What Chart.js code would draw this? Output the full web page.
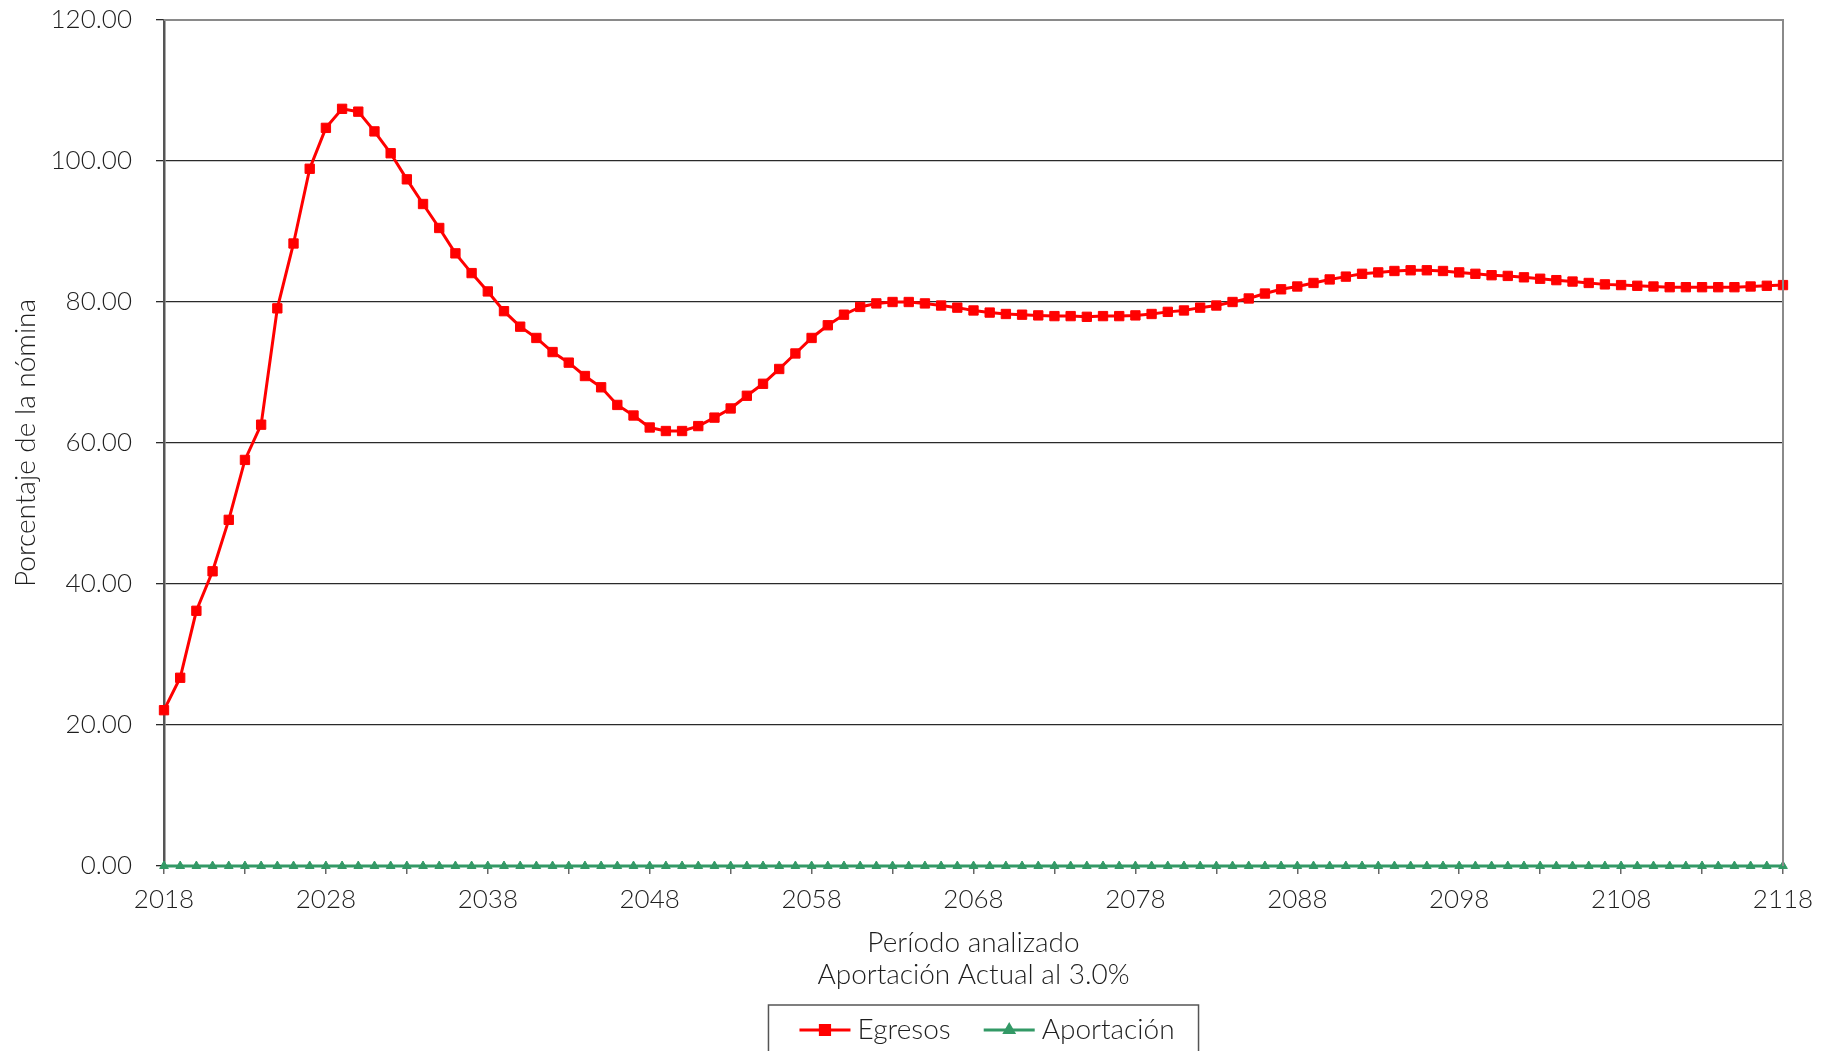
<!DOCTYPE html>
<html>
<head>
<meta charset="utf-8">
<script src="https://cdn.jsdelivr.net/npm/chart.js@4"></script>
<style>
  html, body { margin: 0; padding: 0; background: #ffffff; }
  #wrap { width: 1836px; height: 1051px; position: relative; }
</style>
</head>
<body>
<div id="wrap"><canvas id="c" width="1836" height="1051"></canvas></div>
<script>
// ---- data ----
const years = [
  2018,2019,2020,2021,2022,2023,2024,2025,2026,2027,
  2028,2029,2030,2031,2032,2033,2034,2035,2036,2037,
  2038,2039,2040,2041,2042,2043,2044,2045,2046,2047,
  2048,2049,2050,2051,2052,2053,2054,2055,2056,2057,
  2058,2059,2060,2061,2062,2063,2064,2065,2066,2067,
  2068,2069,2070,2071,2072,2073,2074,2075,2076,2077,
  2078,2079,2080,2081,2082,2083,2084,2085,2086,2087,
  2088,2089,2090,2091,2092,2093,2094,2095,2096,2097,
  2098,2099,2100,2101,2102,2103,2104,2105,2106,2107,
  2108,2109,2110,2111,2112,2113,2114,2115,2116,2117,
  2118
];
const egresos = [
  22.1, 26.7, 36.2, 41.8, 49.1, 57.6, 62.6, 79.1, 88.3, 98.9,
  104.7, 107.4, 107.0, 104.2, 101.1, 97.4, 93.9, 90.5, 86.9, 84.1,
  81.5, 78.7, 76.5, 74.9, 72.9, 71.4, 69.5, 67.9, 65.4, 63.9,
  62.2, 61.7, 61.7, 62.4, 63.6, 64.9, 66.7, 68.4, 70.5, 72.7,
  74.9, 76.7, 78.2, 79.3, 79.8, 80.0, 80.0, 79.8, 79.5, 79.2,
  78.8, 78.5, 78.3, 78.2, 78.1, 78.0, 78.0, 77.9, 78.0, 78.0,
  78.1, 78.3, 78.6, 78.8, 79.2, 79.5, 80.0, 80.5, 81.2, 81.8,
  82.2, 82.7, 83.2, 83.6, 84.0, 84.2, 84.4, 84.5, 84.5, 84.4,
  84.2, 84.0, 83.8, 83.7, 83.5, 83.3, 83.1, 82.9, 82.7, 82.5,
  82.4, 82.3, 82.2, 82.1, 82.1, 82.1, 82.1, 82.1, 82.2, 82.3,
  82.4
];
const aportacion = [
  0,0,0,0,0,0,0,0,0,0,
  0,0,0,0,0,0,0,0,0,0,
  0,0,0,0,0,0,0,0,0,0,
  0,0,0,0,0,0,0,0,0,0,
  0,0,0,0,0,0,0,0,0,0,
  0,0,0,0,0,0,0,0,0,0,
  0,0,0,0,0,0,0,0,0,0,
  0,0,0,0,0,0,0,0,0,0,
  0,0,0,0,0,0,0,0,0,0,
  0,0,0,0,0,0,0,0,0,0,
  0
];
const xTickLabels = [2018, 2028, 2038, 2048, 2058, 2068, 2078, 2088, 2098, 2108, 2118];
const yTicks = [0, 20, 40, 60, 80, 100, 120];
const seriesNames = ['Egresos', 'Aportación'];
const xTitle = ['Período analizado', 'Aportación Actual al 3.0%'];
const yTitle = 'Porcentaje de la nómina';

// ---- styles ----
const FONT = 'Lato, "Open Sans", sans-serif';
const TXT = '#1e1e1e';
const RED = '#ff0000';
const GREEN = '#339966';

const toPts = (vals) => vals.map((v, i) => ({ x: years[i], y: v }));

const frame = {
  id: 'frame',
  afterDatasetsDraw(chart) {
    const { ctx, chartArea: a } = chart;
    ctx.save();
    ctx.strokeStyle = '#8a8a8a';
    ctx.lineWidth = 2;
    ctx.beginPath();
    ctx.moveTo(a.left, a.top);
    ctx.lineTo(a.right, a.top);
    ctx.lineTo(a.right, a.bottom);
    ctx.stroke();
    ctx.restore();
  }
};

const legendBox = {
  id: 'legendBox',
  afterDraw(chart) {
    const { ctx, chartArea: a } = chart;
    ctx.save();
    ctx.font = '300 28px ' + FONT;
    const w1 = ctx.measureText(seriesNames[0]).width;
    const w2 = ctx.measureText(seriesNames[1]).width;
    const lineLen = 51, gapT = 7, gapE = 33, padL = 31, padR = 24;
    const boxW = padL + lineLen + gapT + w1 + gapE + lineLen + gapT + w2 + padR;
    const cx = (a.left + a.right) / 2 + 10;
    const left = cx - boxW / 2;
    const top = a.bottom + 139;
    const boxH = 60;
    const cy = top + 25;
    ctx.strokeStyle = '#555555';
    ctx.lineWidth = 1.5;
    ctx.strokeRect(left, top, boxW, boxH);
    const items = [
      { color: RED, style: 'rect', r: 6.5, w: w1 },
      { color: GREEN, style: 'triangle', r: 5, w: w2 }
    ];
    let x = left + padL;
    items.forEach((it, i) => {
      ctx.strokeStyle = it.color;
      ctx.lineWidth = 3;
      ctx.beginPath();
      ctx.moveTo(x, cy);
      ctx.lineTo(x + lineLen, cy);
      ctx.stroke();
      ctx.fillStyle = it.color;
      Chart.helpers.drawPoint(ctx, { pointStyle: it.style, radius: it.r, borderWidth: 1, rotation: 0 }, x + lineLen / 2, cy);
      ctx.fill();
      x += lineLen + gapT;
      ctx.fillStyle = TXT;
      ctx.textBaseline = 'middle';
      ctx.textAlign = 'left';
      ctx.fillText(seriesNames[i], x, cy);
      x += it.w + gapE;
    });
    ctx.restore();
  }
};

new Chart(document.getElementById('c'), {
  type: 'line',
  data: {
    datasets: [
      {
        label: seriesNames[1],
        data: toPts(aportacion),
        borderColor: GREEN,
        backgroundColor: GREEN,
        borderWidth: 2.8,
        pointStyle: 'triangle',
        pointRadius: 5,
        pointBorderWidth: 1,
        clip: false,
        order: 2
      },
      {
        label: seriesNames[0],
        data: toPts(egresos),
        borderColor: RED,
        backgroundColor: RED,
        borderWidth: 3,
        pointStyle: 'rect',
        pointRadius: 6.6,
        pointBorderWidth: 1,
        clip: false,
        order: 1
      }
    ]
  },
  options: {
    responsive: false,
    animation: false,
    devicePixelRatio: 1,
    layout: { padding: { left: 0, right: 53, top: 20, bottom: 0 } },
    plugins: {
      legend: { display: false },
      tooltip: { enabled: false }
    },
    elements: { line: { tension: 0 } },
    scales: {
      x: {
        type: 'linear',
        min: years[0],
        max: years[years.length - 1],
        afterFit(s) { s.height = 185; },
        border: { display: true, color: '#808080', width: 2 },
        grid: { display: true, drawOnChartArea: false, drawTicks: true, tickLength: 8, color: '#666666', lineWidth: 1.5 },
        ticks: {
          stepSize: 5,
          autoSkip: false,
          maxRotation: 0,
          padding: 10,
          color: TXT,
          font: { family: FONT, size: 26, weight: '300' },
          callback: (v) => (xTickLabels.includes(v) ? String(v) : '')
        },
        title: {
          display: true,
          text: xTitle,
          color: TXT,
          font: { family: FONT, size: 28, weight: '300', lineHeight: 1.15 },
          padding: { top: 0, bottom: 60 }
        }
      },
      y: {
        min: yTicks[0],
        max: yTicks[yTicks.length - 1],
        afterFit(s) { s.width = 164; s.paddingTop = 0; s.paddingBottom = 0; },
        afterBuildTicks(s) { s.ticks = yTicks.map(v => ({ value: v })); },
        border: { display: true, color: '#555555', width: 2.5 },
        grid: { display: true, drawOnChartArea: true, drawTicks: true, tickLength: 8, color: '#2a2a2a', lineWidth: 1.3 },
        ticks: {
          padding: 24,
          color: TXT,
          font: { family: FONT, size: 26, weight: '300' },
          callback: (v) => Number(v).toFixed(2)
        },
        title: {
          display: true,
          text: yTitle,
          color: TXT,
          font: { family: FONT, size: 28, weight: '300' },
          padding: { top: 9, bottom: 0 }
        }
      }
    }
  },
  plugins: [frame, legendBox]
});
</script>
</body>
</html>
